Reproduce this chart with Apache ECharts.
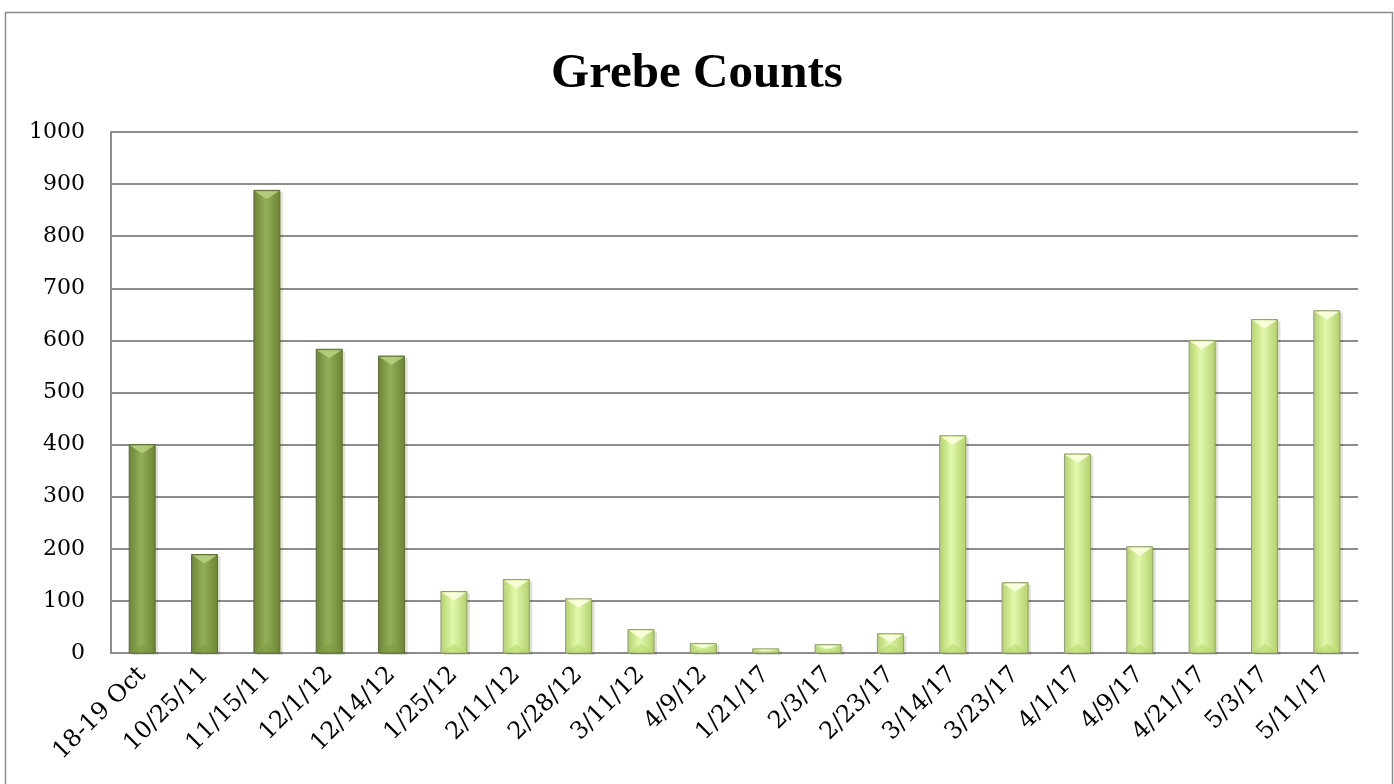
<!DOCTYPE html>
<html>
<head>
<meta charset="utf-8">
<script src="https://cdn.jsdelivr.net/npm/echarts@6/dist/echarts.min.js"></script>
<style>
  html, body { margin: 0; padding: 0; background: #fff; }
  #grebe-chart { width: 1394px; height: 784px; }
</style>
</head>
<body>
<div id="grebe-chart"></div>
<script>
// data
const categories = ['18-19 Oct', '10/25/11', '11/15/11', '12/1/12', '12/14/12', '1/25/12', '2/11/12',
  '2/28/12', '3/11/12', '4/9/12', '1/21/17', '2/3/17', '2/23/17', '3/14/17', '3/23/17', '4/1/17',
  '4/9/17', '4/21/17', '5/3/17', '5/11/17']
const counts = [400, 189, 888, 583, 570, 118, 141, 104, 45, 18, 8, 16, 37, 417, 135, 382, 204, 600, 640, 657]
// first five surveys drawn dark green, the rest light green
const darkCount = 5
const yTicks = [0, 1000, 100]

const titleFont = '"Liberation Serif", serif'
const labelFont = '"DejaVu Serif", serif'

const darkStyle = {
  edge: '#6a8434', mid: '#95ae58', top: '#b7cf7f', bottom: '#7f9a43', border: '#5b7030'
}
const lightStyle = {
  edge: '#b3d06c', mid: '#e2f8ac', top: '#fbffe0', bottom: '#b8d86a', border: '#8ea064'
}

function renderBar (params, api) {
  let idx = api.value(0)
  let val = api.value(1)
  let top = api.coord([idx, val])
  let base = api.coord([idx, 0])
  let w = 26
  let x = top[0] - w / 2
  let h = base[1] - top[1]
  let s = idx < darkCount ? darkStyle : lightStyle
  let bevel = Math.min(9, h / 2)
  let grad = new echarts.graphic.LinearGradient(0, 0, 1, 0, [
    { offset: 0, color: s.edge },
    { offset: 0.45, color: s.mid },
    { offset: 1, color: s.edge }
  ])
  return {
    type: 'group',
    children: [
      {
        type: 'rect',
        shape: { x: x + 3, y: top[1] + 2, width: w, height: h },
        style: { fill: 'rgba(0,0,0,0.12)' }
      },
      {
        type: 'rect',
        shape: { x: x, y: top[1], width: w, height: h },
        style: { fill: grad, stroke: s.border, lineWidth: 1 }
      },
      {
        type: 'polygon',
        shape: { points: [[x + 1, top[1] + 1], [x + w - 1, top[1] + 1], [x + w / 2, top[1] + bevel]] },
        style: { fill: s.top, opacity: 0.9 }
      },
      {
        type: 'polygon',
        shape: { points: [[x + 1, base[1] - 1], [x + w - 1, base[1] - 1], [x + w / 2, base[1] - bevel]] },
        style: { fill: s.bottom, opacity: 0.6 }
      }
    ]
  }
}

let myChart = echarts.init(document.getElementById('grebe-chart'))
let option = {
  animation: false,
  backgroundColor: '#fff',
  title: {
    text: 'Grebe Counts',
    left: 'center',
    top: 45,
    textStyle: { fontFamily: titleFont, fontSize: 49, fontWeight: 'bold', color: '#000' }
  },
  graphic: [
    {
      type: 'rect',
      left: 3,
      top: 10,
      shape: { width: 1387, height: 800 },
      style: { fill: 'none', stroke: '#8c8c8c', lineWidth: 1.5 }
    }
  ],
  grid: { left: 111, right: 36, top: 132, bottom: 131 },
  xAxis: {
    type: 'category',
    data: categories,
    axisLine: { show: true, lineStyle: { color: '#8c8c8c', width: 2 } },
    axisTick: { show: false },
    axisLabel: {
      interval: 0,
      rotate: 45,
      margin: 18,
      fontFamily: labelFont,
      fontSize: 24,
      color: '#000'
    }
  },
  yAxis: {
    type: 'value',
    min: yTicks[0],
    max: yTicks[1],
    interval: yTicks[2],
    axisLine: { show: true, lineStyle: { color: '#8c8c8c', width: 2 } },
    axisTick: { show: false },
    splitLine: { lineStyle: { color: '#8c8c8c', width: 2 } },
    axisLabel: {
      margin: 26,
      fontFamily: labelFont,
      fontSize: 22,
      color: '#000',
      formatter: v => String(v)
    }
  },
  series: [
    {
      type: 'custom',
      renderItem: renderBar,
      encode: { x: 0, y: 1 },
      data: counts.map((v, i) => [i, v])
    }
  ]
}
myChart.setOption(option)
</script>
</body>
</html>
